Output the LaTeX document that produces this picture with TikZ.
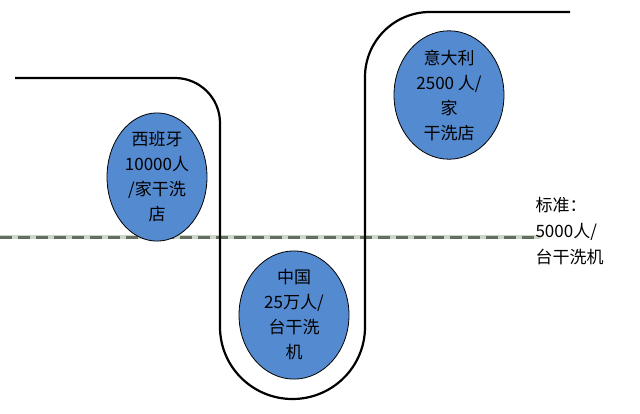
\documentclass[tikz,border=0pt]{standalone}
\usepackage{fontspec}
\newfontfamily\cjk{Noto Sans CJK SC}
\usetikzlibrary{positioning, shapes.geometric}
\definecolor{ballFill}{RGB}{84,138,208}
\definecolor{dashDark}{RGB}{100,110,95}
\definecolor{dashLight}{RGB}{205,212,200}
\tikzstyle{ball} = [ellipse, draw=black, thick, fill=ballFill, inner sep=0pt, align=center, font=\cjk\fontsize{17}{25}\selectfont]
\tikzstyle{track} = [line width=2.2pt, black]

\begin{document}
\begin{tikzpicture}[x=1pt, y=-1pt]
\useasboundingbox (0,0) rectangle (640,413);

% standard line
\draw [line width=4pt, dashLight] (0,237) -- (540,237);
\draw [line width=3pt, dashDark, dash pattern=on 12pt off 6pt] (0,237) -- (540,237);

% track
\draw [track] (15,78) -- (175,78) arc[start angle=-90, end angle=0, radius=45] -- (220,327)
  arc[start angle=180, end angle=0, x radius=72.5, y radius=72] -- (365,77)
  arc[start angle=180, end angle=270, radius=65] -- (570,12);

\node (spain) [ball, minimum width=100pt, minimum height=116pt] at (157,177) {西班牙\\10000人\\/家干洗\\店};
\node (china) [ball, minimum width=110pt, minimum height=122pt] at (294,315) {中国\\25万人/\\台干洗\\机};
\node (italy) [ball, minimum width=110pt, minimum height=124pt] at (449,95) {意大利\\2500 人/\\家\\干洗店};
\node (standard) [anchor=west, align=left, font=\cjk\fontsize{17}{26}\selectfont] at (532,231) {标准：\\5000人/\\台干洗机};
\end{tikzpicture}
\end{document}
